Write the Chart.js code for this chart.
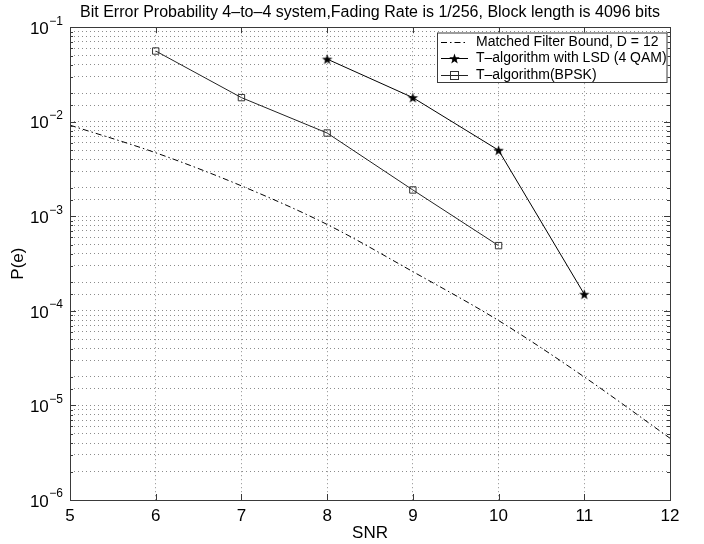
<!DOCTYPE html>
<html><head><meta charset="utf-8">
<script src="https://cdn.jsdelivr.net/npm/chart.js@4.4.1/dist/chart.umd.min.js"></script>
<style>html,body{margin:0;padding:0;background:#fff}canvas{display:block}</style>
</head><body>
<canvas id="c" width="704" height="544"></canvas>
<script>
const titleText = 'Bit Error Probability 4\u2013to\u20134 system,Fading Rate is 1/256, Block length is 4096 bits';
const xAxisTitle = 'SNR';
const yAxisTitle = 'P(e)';
const seriesNames = ['Matched Filter Bound, D = 12', 'T\u2013algorithm with LSD (4 QAM)', 'T\u2013algorithm(BPSK)'];
const snrBound = [5, 6, 7, 8, 9, 10, 11, 12];
const pBound = [9.2e-3, 4.7e-3, 2.1e-3, 8.2e-4, 2.6e-4, 7.9e-5, 2.0e-5, 4.5e-6];
const snrLSD = [8, 9, 10, 11];
const pLSD = [4.6e-2, 1.8e-2, 5.0e-3, 1.5e-4];
const snrBPSK = [6, 7, 8, 9, 10];
const pBPSK = [5.6e-2, 1.8e-2, 7.6e-3, 1.9e-3, 4.9e-4];
const xTicks = [5, 6, 7, 8, 9, 10, 11, 12];
const yMajorTicks = [1e-1, 1e-2, 1e-3, 1e-4, 1e-5, 1e-6];
const yTickExponents = ['\u22121', '\u22122', '\u22123', '\u22124', '\u22125', '\u22126'];

const FONT = "'Liberation Sans', Arial, Helvetica, sans-serif";

function starCanvas(r) {
  const s = Math.ceil(r * 2 + 2);
  const c = document.createElement('canvas');
  c.width = s; c.height = s;
  const g = c.getContext('2d');
  g.translate(s / 2, s / 2 + 0.5);
  g.beginPath();
  for (let i = 0; i < 10; i++) {
    const rad = i % 2 ? r * 0.4 : r;
    const a = -Math.PI / 2 + i * Math.PI / 5;
    g.lineTo(rad * Math.cos(a), rad * Math.sin(a));
  }
  g.closePath();
  g.fillStyle = '#000';
  g.fill();
  return c;
}
const starImg = starCanvas(5.5);
const zip = (xs, ys) => xs.map((x, i) => ({x: x, y: ys[i]}));

const DASHDOT = [6, 3, 1.5, 3];

const decorPlugin = {
  id: 'decor',
  afterDraw(chart) {
    const ctx = chart.ctx;
    const a = chart.chartArea;
    const xs = chart.scales.x, ys = chart.scales.y;
    ctx.save();
    ctx.strokeStyle = '#3a3a3a';
    ctx.lineWidth = 1;
    ctx.strokeRect(Math.round(a.left) + 0.5, Math.round(a.top) + 0.5, Math.round(a.right - a.left), Math.round(a.bottom - a.top));
    ctx.beginPath();
    xTicks.forEach(v => {
      const px = Math.round(xs.getPixelForValue(v)) + 0.5;
      ctx.moveTo(px, a.bottom); ctx.lineTo(px, a.bottom - 6);
      ctx.moveTo(px, a.top); ctx.lineTo(px, a.top + 6);
    });
    ys.ticks.forEach(t => {
      const py = Math.round(ys.getPixelForValue(t.value)) + 0.5;
      const mant = t.value / Math.pow(10, Math.floor(Math.log10(t.value) + 1e-9));
      const major = Math.abs(mant - 1) < 1e-6;
      const len = major ? 6 : 3;
      ctx.moveTo(a.left, py); ctx.lineTo(a.left + len, py);
      ctx.moveTo(a.right, py); ctx.lineTo(a.right - len, py);
    });
    ctx.stroke();
    ctx.fillStyle = '#000';
    ctx.textBaseline = 'middle';
    yMajorTicks.forEach((v, i) => {
      const py = ys.getPixelForValue(v);
      ctx.font = '12px ' + FONT;
      const w = ctx.measureText(yTickExponents[i]).width;
      const xr = a.left - 7;
      ctx.textAlign = 'left';
      ctx.fillText(yTickExponents[i], xr - w, py - 6);
      ctx.font = '17px ' + FONT;
      ctx.textAlign = 'right';
      ctx.fillText('10', xr - w - 0.5, py + 2);
    });
    const L = {left: 437, top: 32.5, right: 667.5, bottom: 83};
    ctx.fillStyle = '#fff';
    ctx.fillRect(L.left, L.top, L.right - L.left, L.bottom - L.top);
    ctx.strokeStyle = '#3a3a3a';
    ctx.lineWidth = 1;
    ctx.strokeRect(L.left + 0.5, L.top + 0.5, L.right - L.left - 1, L.bottom - L.top - 1);
    const rows = [41.5, 58, 74.5];
    const ds = chart.data.datasets;
    rows.forEach((ry, i) => {
      const d = ds[i];
      ctx.save();
      ctx.strokeStyle = d.borderColor;
      ctx.lineWidth = d.borderWidth;
      ctx.setLineDash(d.borderDash || []);
      ctx.beginPath();
      ctx.moveTo(441, Math.round(ry) + 0.5); ctx.lineTo(468, Math.round(ry) + 0.5);
      ctx.stroke();
      ctx.restore();
      if (i === 1) {
        ctx.drawImage(starImg, 454.5 - starImg.width / 2, Math.round(ry) + 0.5 - starImg.height / 2);
      } else if (i === 2) {
        ctx.strokeStyle = '#333';
        ctx.strokeRect(450.5, Math.round(ry) - 3.5, 8, 8);
      }
      ctx.fillStyle = '#000';
      ctx.font = '14px ' + FONT;
      ctx.textAlign = 'left';
      ctx.textBaseline = 'middle';
      ctx.fillText(seriesNames[i], 476, ry + 0.5);
    });
    ctx.restore();
  }
};

new Chart(document.getElementById('c'), {
  type: 'line',
  data: {
    datasets: [
      {label: seriesNames[0], data: zip(snrBound, pBound), borderColor: '#000', borderWidth: 1, borderDash: DASHDOT, pointRadius: 0, tension: 0.3, cubicInterpolationMode: 'monotone', fill: false},
      {label: seriesNames[1], data: zip(snrLSD, pLSD), borderColor: '#000', borderWidth: 1, pointStyle: starImg, pointRadius: 6, fill: false},
      {label: seriesNames[2], data: zip(snrBPSK, pBPSK), borderColor: '#222', borderWidth: 1, pointStyle: 'rect', pointRadius: 4.5, pointBackgroundColor: 'rgba(0,0,0,0)', pointBorderColor: '#333', pointBorderWidth: 1, fill: false}
    ]
  },
  options: {
    responsive: false,
    animation: false,
    devicePixelRatio: 1,
    layout: {padding: {left: 0, right: 34, top: 0, bottom: 0}},
    plugins: {
      legend: {display: false},
      tooltip: {enabled: false},
      title: {display: true, fullSize: false, text: titleText, color: '#000', font: {family: FONT, size: 16, weight: 'normal'}, padding: {top: 3, bottom: 5}}
    },
    scales: {
      x: {
        type: 'linear', min: 5, max: 12,
        afterBuildTicks: s => { s.ticks = xTicks.map(v => ({value: v})); },
        ticks: {color: '#000', font: {family: FONT, size: 17}, padding: 6, maxRotation: 0, autoSkip: false},
        grid: {color: 'rgba(0,0,0,0.45)', lineWidth: 1, drawTicks: false},
        border: {display: false, dash: [1, 3]},
        title: {display: true, text: xAxisTitle, color: '#000', font: {family: FONT, size: 17}, padding: 0},
        afterFit: s => { s.height = 44; }
      },
      y: {
        type: 'logarithmic', min: 1e-6, max: 1e-1,
        ticks: {display: false},
        grid: {color: 'rgba(0,0,0,0.45)', lineWidth: 1, drawTicks: false},
        border: {display: false, dash: [1, 3]},
        title: {display: true, text: yAxisTitle, color: '#000', font: {family: FONT, size: 17}, padding: {top: 8, bottom: 0}},
        afterFit: s => { s.width = 70; }
      }
    }
  },
  plugins: [decorPlugin]
});
</script>
</body></html>
